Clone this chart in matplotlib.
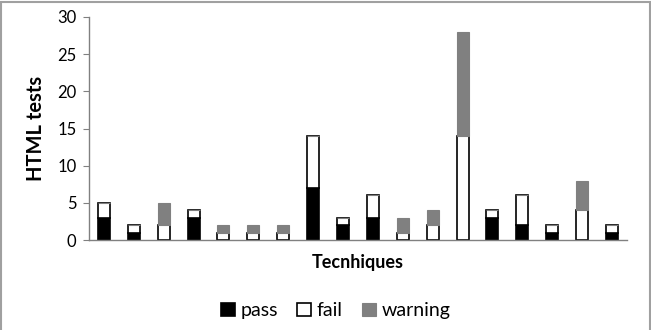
import numpy as np
import matplotlib
matplotlib.use('Agg')
import matplotlib.pyplot as plt
from matplotlib.patches import Rectangle

plt.rcParams['font.family'] = ['Lato', 'DejaVu Sans']

# values
techniques = list(range(1, 19))
passed = [3, 1, 0, 3, 0, 0, 0, 7, 2, 3, 0, 0, 0, 3, 2, 1, 0, 1]
failed = [2, 1, 2, 1, 1, 1, 1, 7, 1, 3, 1, 2, 14, 1, 4, 1, 4, 1]
warning = [0, 0, 3, 0, 1, 1, 1, 0, 0, 0, 2, 2, 14, 0, 0, 0, 4, 0]
y_ticks = [0, 5, 10, 15, 20, 25, 30]

fig = plt.figure(figsize=(6.51, 3.30), dpi=100)
ax = fig.add_axes([0.1367, 0.2727, 0.8263, 0.6758])

x = np.arange(len(techniques))
passed = np.array(passed)
failed = np.array(failed)
warning = np.array(warning)
w = 0.4

gray = '#808080'
ax.bar(x, passed, w, color='black', edgecolor='black', linewidth=1.2,
       label='pass')
ax.bar(x, failed, w, bottom=passed, color='white', edgecolor='black',
       linewidth=1.2, label='fail')
ax.bar(x, warning, w, bottom=passed + failed, color=gray, edgecolor=gray,
       linewidth=0.8, label='warning')

ax.set_xlim(-0.5, len(x) - 0.5)
ax.set_ylim(0, 30)
ax.set_yticks(y_ticks)
ax.set_xticks([])
ax.tick_params(axis='y', length=4, color=gray, labelsize=12, pad=5)

for side in ['top', 'right']:
    ax.spines[side].set_visible(False)
for side in ['left', 'bottom']:
    ax.spines[side].set_color(gray)
    ax.spines[side].set_linewidth(1.0)

ax.set_ylabel('HTML tests', fontsize=14.5, fontweight='bold', labelpad=8)
ax.set_xlabel('Tecnhiques', fontsize=13, fontweight='bold', labelpad=10)

ax.legend(loc='upper center', bbox_to_anchor=(0.459, -0.2), ncol=3,
          frameon=False, fontsize=14, handlelength=0.7, handleheight=0.7,
          handletextpad=0.3, columnspacing=1.0)

fig.patches.append(Rectangle((0.002, -0.01), 0.996, 1.005,
                             transform=fig.transFigure, fill=False,
                             edgecolor='#a0a0a0', linewidth=1.5))

fig.savefig('out.png', dpi=100)
